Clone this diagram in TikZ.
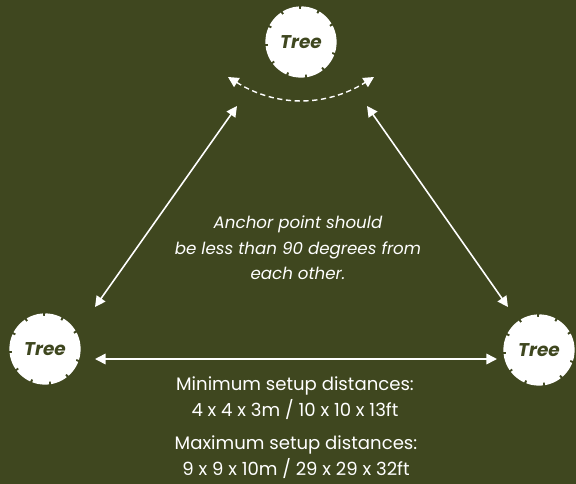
\documentclass[tikz,border=0pt]{standalone}
\usepackage{fontspec}
\setmainfont{Poppins}
\usetikzlibrary{arrows.meta}
\usetikzlibrary{positioning}
\definecolor{OliveBg}{RGB}{63,71,31}

\tikzset{
  tree/.style={circle, fill=white, draw=white, line width=3pt,
    dash pattern=on 9pt off 1.2pt, minimum size=1.32cm, inner sep=0pt,
    text=OliveBg, font=\fontsize{10.5}{12}\selectfont\bfseries\itshape},
  link/.style={white, line width=0.9pt,
    {Triangle[length=6pt,width=6pt]}-{Triangle[length=6pt,width=6pt]}},
  note/.style={text=white, align=center,
    font=\fontsize{10.3}{14.5}\selectfont},
}

\begin{document}
\begin{tikzpicture}[x=0.02cm, y=-0.02cm]

% background
\fill[OliveBg] (0,0) rectangle (576,484);
\useasboundingbox (0,0) rectangle (576,484);

% trees
\node[tree] (treeTop)   at (301,42)  {Tree};
\node[tree] (treeLeft)  at (45,349)  {Tree};
\node[tree] (treeRight) at (539,350) {Tree};

% arrow ends
\coordinate (lb) at (95,307);
\coordinate (lt) at (237,106);
\coordinate (rt) at (367,106);
\coordinate (rb) at (508,307);
\coordinate (hl) at (95,359);
\coordinate (hr) at (497,359);
\coordinate (al) at (228,77);
\coordinate (ar) at (374,77);

% arrows
\draw[link] (lb) -- (lt);
\draw[link] (rt) -- (rb);
\draw[link] (hl) -- (hr);

% anchor angle
\draw[link, line width=0.8pt, dash pattern=on 3pt off 2pt] (al) to[bend right=32] (ar);

% texts
\node[note, font=\fontsize{9.5}{14.5}\selectfont\itshape] (anchorTxt) at (298,248)
  {Anchor point should\\be less than 90 degrees from\\each other.};
\node[note] (minTxt) at (295,398)
  {Minimum setup distances:\\4 x 4 x 3m / 10 x 10 x 13ft};
\node[note] (maxTxt) at (296,457)
  {Maximum setup distances:\\9 x 9 x 10m / 29 x 29 x 32ft};

\end{tikzpicture}
\end{document}
